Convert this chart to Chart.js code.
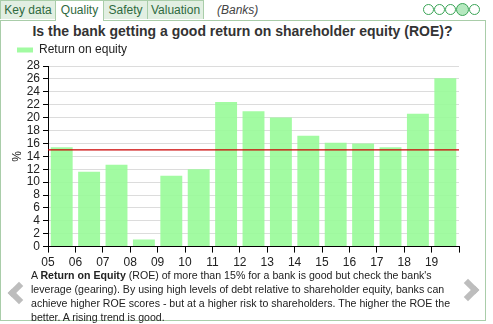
<!DOCTYPE html>
<html>
<head>
<meta charset="utf-8">
<script src="https://cdn.jsdelivr.net/npm/chart.js@4.4.0/dist/chart.umd.min.js"></script>
<style>
  body { margin: 0; width: 493px; height: 324px; background: #fff; font-family: Arial, "Liberation Sans", sans-serif; position: relative; overflow: hidden; }
  .tab { position: absolute; top: 0; height: 19px; line-height: 19px; font-size: 12px; color: #2f6a40; background: #e2efe2; border: 1px solid #a9cda9; border-bottom: none; text-align: center; box-sizing: border-box; }
  .tab.active { background: #fff; height: 21px; z-index: 2; }
  #panel { position: absolute; left: 0; top: 20px; width: 486px; height: 301px; border: 1px solid #a9cda9; box-sizing: border-box; }
  #sector { position: absolute; left: 217px; top: 3px; font-size: 12px; font-style: italic; color: #444; }
  .dot { position: absolute; top: 4px; width: 9px; height: 9px; border: 1px solid #3aa456; border-radius: 50%; }
  .dot.on { top: 3px; width: 11px; height: 11px; background: #b5e8bf; }
  #title { position: absolute; left: 0; top: 23px; width: 485px; text-align: center; font-size: 14px; line-height: 16px; font-weight: bold; color: #333; }
  #chart { position: absolute; left: 0; top: 40px; }
  #note { position: absolute; left: 31px; top: 268px; font-size: 10.6px; line-height: 14px; color: #222; white-space: nowrap; }
  .chev { position: absolute; width: 10px; height: 10px; border-left: 6px solid #bdbdbd; border-bottom: 6px solid #bdbdbd; }
</style>
</head>
<body>
<div class="tab" style="left:0;width:56px">Key data</div>
<div class="tab active" style="left:55px;width:49px">Quality</div>
<div class="tab" style="left:103px;width:45px">Safety</div>
<div class="tab" style="left:147px;width:57px">Valuation</div>
<div id="sector">(Banks)</div>
<div class="dot" style="left:423px"></div>
<div class="dot" style="left:434px"></div>
<div class="dot" style="left:445px"></div>
<div class="dot on" style="left:456px"></div>
<div class="dot" style="left:469px"></div>
<div id="panel"></div>
<div id="title">Is the bank getting a good return on shareholder equity (ROE)?</div>
<canvas id="chart" width="486" height="233"></canvas>
<div id="note">A <b>Return on Equity</b> (ROE) of more than 15% for a bank is good but check the bank's<br>leverage (gearing). By using high levels of debt relative to shareholder equity, banks can<br>achieve higher ROE scores - but at a higher risk to shareholders. The higher the ROE the<br>better. A rising trend is good.</div>
<div class="chev" style="left:11px;top:285px;transform:rotate(45deg)"></div>
<div class="chev" style="left:460px;top:282px;transform:rotate(-135deg)"></div>
<script>
var years = ['05', '06', '07', '08', '09', '10', '11', '12', '13', '14', '15', '16', '17', '18', '19'];
var roe = [15.4, 11.6, 12.7, 1.1, 11.0, 12.0, 22.4, 21.0, 20.0, 17.2, 16.1, 16.0, 15.4, 20.6, 26.1];
var target = 15;

// red guide line at the 15% level
var targetLine = {
    id: 'targetLine',
    afterDatasetsDraw: function (chart) {
        var c = chart.ctx, area = chart.chartArea;
        var y = chart.scales.y.getPixelForValue(target);
        c.save();
        c.strokeStyle = '#cc0000';
        c.lineWidth = 1.2;
        c.beginPath();
        c.moveTo(area.left, y);
        c.lineTo(area.right, y);
        c.stroke();
        c.restore();
    }
};

var ctx = document.getElementById('chart').getContext('2d');
var myChart = new Chart(ctx, {
    type: 'bar',
    data: {
        labels: years,
        datasets: [{
            label: 'Return on equity',
            data: roe,
            backgroundColor: 'rgba(152, 251, 152, 0.9)',
            borderWidth: 0,
            barPercentage: 0.8,
            categoryPercentage: 1.0
        }]
    },
    options: {
        responsive: false,
        animation: false,
        layout: { padding: { left: 13, right: 27, top: 0, bottom: 0 } },
        plugins: {
            legend: {
                align: 'start',
                labels: { boxWidth: 16, boxHeight: 5, padding: 4, color: '#222', font: { family: 'Arial', size: 12 } }
            },
            tooltip: { enabled: false }
        },
        scales: {
            x: {
                grid: { drawOnChartArea: false, offset: true, tickColor: '#000', tickLength: 6 },
                border: { color: '#000' },
                ticks: { color: '#222', font: { family: 'Arial', size: 12 }, labelOffset: -13.7, maxRotation: 0, autoSkip: false, padding: 3 }
            },
            y: {
                min: 0,
                max: 28,
                afterFit: function (s) { s.width = 35; },
                grid: { color: '#dcdcdc', tickColor: '#000', tickLength: 5 },
                border: { color: '#000' },
                ticks: { stepSize: 2, autoSkip: false, color: '#222', font: { family: 'Arial', size: 12 }, padding: 3 },
                title: { display: true, text: '%', color: '#222', font: { family: 'Arial', size: 12 }, padding: { top: -3, bottom: 0 } }
            }
        }
    },
    plugins: [targetLine]
});
</script>
</body>
</html>
